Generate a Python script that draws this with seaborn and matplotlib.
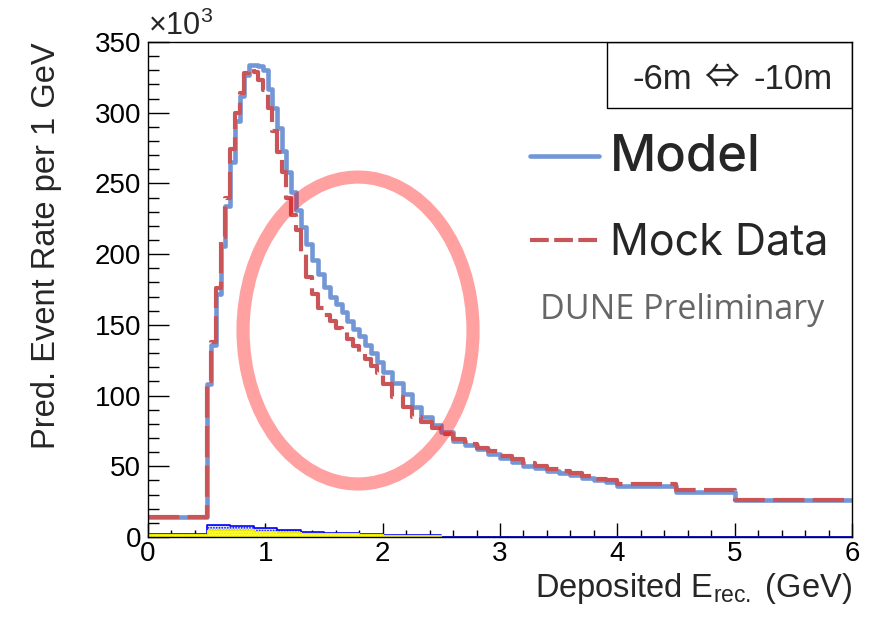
import numpy as np
import pandas as pd
import matplotlib
matplotlib.use("Agg")
import matplotlib.pyplot as plt
import seaborn as sns
from matplotlib.patches import Ellipse, Rectangle
from matplotlib.lines import Line2D
from matplotlib.ticker import MultipleLocator

# Reconstructed-energy binning (GeV)
bin_edges = [0.0, 0.5,
             0.54, 0.58, 0.62, 0.66, 0.70, 0.74, 0.78, 0.82, 0.86, 0.90,
             0.94, 0.98, 1.02, 1.06, 1.10, 1.14, 1.18, 1.22, 1.26, 1.30,
             1.35, 1.40, 1.45, 1.50, 1.55, 1.60, 1.65, 1.70, 1.75, 1.80,
             1.85, 1.90, 1.95, 2.00,
             2.08, 2.17, 2.25, 2.33, 2.42, 2.50,
             2.6, 2.7, 2.8, 2.9, 3.0, 3.1, 3.2, 3.3, 3.4, 3.5,
             3.6, 3.7, 3.8, 3.9, 4.0,
             4.5, 5.0, 6.0]

# Predicted event rate per 1 GeV (x10^3)
model_rate = [14,
              108, 136, 172, 206, 234, 265, 294, 312, 327, 334,
              334, 333, 330, 317, 303, 289, 273, 258, 244, 231,
              219, 207, 196, 186, 177, 170, 165, 159, 153, 147,
              142, 136, 130, 124,
              117, 109, 101, 92, 85, 79,
              74, 68, 65, 62, 59, 56, 53, 50, 49, 46.5,
              45, 43.5, 41.5, 40.5, 39,
              36, 32, 26]

mock_rate = [14,
             110, 138, 176, 212, 240, 274, 300, 314, 328, 331,
             329, 323, 316, 303, 287, 272, 258, 240, 228, 217,
             200, 184, 172, 162, 157, 153, 148, 145, 140, 135,
             131, 126, 121, 116,
             108, 99, 92, 85, 81, 77,
             73, 69, 66, 63, 61, 57, 55, 52, 50, 48,
             47, 45, 43, 41, 40,
             37.5, 33, 26.5]

# Small background components near the axis
bkg_edges = [0.0, 0.5, 0.7, 0.9, 1.1, 1.3, 1.5, 1.8, 2.0, 2.5, 6.0]
bkg_total = [2.0, 8.3, 7.8, 6.5, 5.0, 3.8, 2.8, 2.0, 1.5, 0.0]
bkg_yellow = [2.0, 5.0, 4.8, 4.2, 3.5, 3.0, 2.5, 2.0, 1.5, 0.0]

x_ticks = [0, 1, 2, 3, 4, 5, 6]
y_ticks = [0, 50, 100, 150, 200, 250, 300, 350]

BLUE = "#7396d6"
RED = "#c95558"

sns.set_style("white")
plt.rcParams["font.family"] = ["Liberation Sans", "DejaVu Sans"]
plt.rcParams["mathtext.fontset"] = "custom"
plt.rcParams["mathtext.rm"] = "Liberation Sans"
plt.rcParams["mathtext.it"] = "Liberation Sans:italic"
plt.rcParams["hatch.linewidth"] = 0.8

fig = plt.figure(figsize=(8.79, 6.17), dpi=100)
ax = fig.add_axes([148 / 879, 80 / 617, 704 / 879, 495 / 617])

def centers(edges):
    return [(a + b) / 2 for a, b in zip(edges[:-1], edges[1:])]

main = pd.DataFrame({"E": centers(bin_edges), "model": model_rate, "mock": mock_rate})
bkg = pd.DataFrame({"E": centers(bkg_edges), "total": bkg_total, "yellow": bkg_yellow})

# background components (stacked)
sns.histplot(data=bkg, x="E", weights="total", bins=bkg_edges, element="step",
             fill=True, color="blue", facecolor="#d8defc", edgecolor="blue",
             hatch="......", linewidth=1.2, alpha=1, ax=ax)
sns.histplot(data=bkg, x="E", weights="yellow", bins=bkg_edges, element="step",
             fill=True, facecolor="#ffff33", edgecolor="#e8e800",
             hatch="......", linewidth=0.8, alpha=1, ax=ax)

# model and mock data
sns.histplot(data=main, x="E", weights="model", bins=bin_edges, element="step",
             fill=False, color=BLUE, linewidth=3.3, ax=ax)
sns.histplot(data=main, x="E", weights="mock", bins=bin_edges, element="step",
             fill=False, color=RED, linewidth=3.0, linestyle=(0, (7.5, 2.0)), ax=ax)

# highlighted region
ax.add_patch(Ellipse((1.79, 146), width=1.96, height=217, fill=False,
                     edgecolor=(1.0, 0.0, 0.0, 0.37), linewidth=9.5, zorder=5))

ax.set_xlim(0, 6)
ax.set_ylim(0, 350)
ax.set_xticks(x_ticks)
ax.set_yticks(y_ticks)
ax.xaxis.set_minor_locator(MultipleLocator(0.2))
ax.yaxis.set_minor_locator(MultipleLocator(10))
ax.tick_params(axis="both", which="both", direction="in", width=1.0, color="black",
               labelsize=20, labelcolor="black", bottom=True, left=True,
               top=False, right=False)
ax.tick_params(axis="y", which="major", length=15, pad=5)
ax.tick_params(axis="y", which="minor", length=8)
ax.tick_params(axis="x", which="major", length=10, pad=3)
ax.tick_params(axis="x", which="minor", length=5)
for s in ax.spines.values():
    s.set_color("black")
    s.set_linewidth(1.0)

ax.set_xlabel(r"Deposited E$_{\mathrm{rec.}}$ (GeV)", fontsize=23.5, loc="right")
ax.xaxis.set_label_coords(1.0, -0.068)
ax.set_ylabel("Pred. Event Rate per 1 GeV", fontsize=23.5, loc="top")
ax.yaxis.set_label_coords(-0.122, 1.0)

ax.text(0.0, 1.0, r"$\times$10$^{3}$", transform=ax.transAxes, fontsize=22,
        ha="left", va="bottom")

# baseline box
ax.add_patch(Rectangle((0.652, 0.867), 0.348, 0.133, transform=ax.transAxes,
                       fill=False, edgecolor="black", linewidth=1.0, zorder=6))
ax.text(0.7723, 0.925, "-6m", transform=ax.transAxes, fontsize=25,
        ha="right", va="center", zorder=7)
ax.text(0.8146, 0.925, "\u21d4", transform=ax.transAxes, fontsize=25,
        ha="center", va="center", zorder=7, family="Noto Sans CJK JP")
ax.text(0.8594, 0.925, "-10m", transform=ax.transAxes, fontsize=25,
        ha="left", va="center", zorder=7)

handles = [Line2D([], [], color=BLUE, linewidth=3.3),
           Line2D([], [], color=RED, linewidth=3.0, linestyle=(0, (4.5, 1.3)))]
leg = ax.legend(handles, ["Model", "Mock Data"], loc="upper left",
                bbox_to_anchor=(0.543, 0.815), frameon=False,
                handlelength=1.6, handletextpad=0.25, labelspacing=0.98,
                borderpad=0, borderaxespad=0,
                prop={"family": "Inter", "size": 31})
leg.get_texts()[0].set_fontweight("medium")
leg.get_texts()[0].set_fontsize(36.5)

ax.text(0.557, 0.459, "DUNE Preliminary", transform=ax.transAxes, fontsize=24.5,
        color="#666666", family="Open Sans", ha="left", va="center")

fig.savefig("out.png", dpi=100)
